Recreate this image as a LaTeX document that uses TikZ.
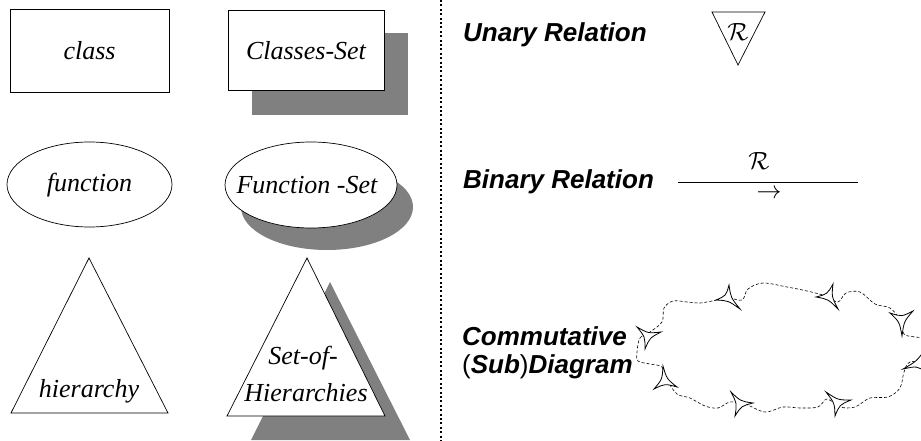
\documentclass[tikz,border=0pt]{standalone}
\usepackage{fontspec}
\setmainfont{Liberation Serif}
\newfontfamily\labelfont{Liberation Sans}
\usetikzlibrary{calc}

\tikzset{
  outline/.style={draw=black, line width=0.7pt},
  shadowfill/.style={fill=black!50, draw=none},
  shapetext/.style={font=\fontsize{26}{30}\selectfont\itshape, inner sep=0pt},
  legend/.style={font=\labelfont\fontsize{26}{30}\selectfont\bfseries\itshape, inner sep=0pt},
  relsym/.style={font=\fontsize{30}{34}\selectfont, inner sep=0pt},
  divider/.style={line width=1.3pt, dash pattern=on 2pt off 2.4pt},
  cloudline/.style={line width=0.6pt, dash pattern=on 3pt off 2pt},
  cusp/.style={draw=black, fill=white, line width=0.8pt, line join=miter},
}

% a small open arrowhead with concave sides, given by its three corners
\newcommand\cuspmark[3]{%
  \coordinate (cg) at ($1/3*(#1)+1/3*(#2)+1/3*(#3)$);
  \draw[cusp] (#1) .. controls ($(#1)!0.5!(#2)!0.6!(cg)$) .. (#2)
     .. controls ($(#2)!0.5!(#3)!0.6!(cg)$) .. (#3)
     .. controls ($(#3)!0.5!(#1)!0.6!(cg)$) .. (#1) -- cycle;
}

\begin{document}
\begin{tikzpicture}[x=1pt, y=-1pt]
\useasboundingbox (0,0) rectangle (921,441);
\clip (0,0) rectangle (921,441);

% ---- left column: single elements ----
\draw[outline] (10,9) rectangle (169,92);
\node[shapetext] (class) at (89.5,51) {class};

\draw[outline] (89.5,184.5) ellipse [x radius=82.5, y radius=42.5];
\node[shapetext] (function) at (89.5,185) {function};

\draw[outline] (89,258) -- (11,413) -- (168,413) -- cycle;
\node[shapetext] (hierarchy) at (89,391) {hierarchy};

% ---- second column: sets, with shadows ----
\fill[shadowfill] (252,33) rectangle (408,115);
\draw[outline, fill=white] (228,10) rectangle (384,90);
\node[shapetext] (classset) at (306,51) {Classes-Set};

\fill[shadowfill] (327,207) ellipse [x radius=86, y radius=43];
\draw[outline, fill=white] (311,185) ellipse [x radius=86, y radius=43];
\node[shapetext] (functionset) at (307,185) {Function -Set};

\fill[shadowfill] (330,282) -- (251,440) -- (410,440) -- cycle;
\draw[outline, fill=white] (307,258) -- (227,416) -- (385,416) -- cycle;
\node[shapetext] (setof) at (303,358) {Set-of-};
\node[shapetext] (hierarchies) at (306,393) {Hierarchies};

% ---- divider ----
\coordinate (divtop) at (441,0);
\coordinate (divbot) at (441,441);
\draw[divider] (divtop) -- (divbot);

% ---- right column: legend ----
\node[legend, anchor=base west] (unary) at (463,42) {Unary Relation};
\draw[outline] (712,12) -- (765,12) -- (738,65) -- cycle;
\node[relsym] (unaryR) at (738,32) {$\mathcal{R}$};

\node[legend, anchor=base west] (binary) at (463,188) {Binary Relation};
\coordinate (binL) at (678,182);
\coordinate (binR) at (858,182);
\draw[outline] (binL) -- (binR);
\node[relsym] (binaryR) at (759,161) {$\mathcal{R}$};
\node[relsym] (binaryArrow) at (769,194) {$\rightarrow$};

\node[legend, anchor=base west] (comm) at (462,345) {Commutative};
\node[legend, anchor=base west] (subdiag) at (462,373)
  {{\upshape\mdseries(}Sub{\upshape\mdseries)}Diagram};

% commutative cloud
\draw[cloudline] plot[smooth cycle, tension=0.55] coordinates {
  (637,352) (640,338) (650,332) (662,322) (664,308) (673,301) (687,302)
  (700,303) (712,301) (728,298) (742,300) (748,289) (763,283) (787,287)
  (807,291) (826,296) (838,302) (846,293) (860,292) (875,304) (890,308)
  (900,320) (904,334) (915,337) (930,340) (930,360) (910,362) (904,372)
  (900,388) (888,397) (870,398) (855,407) (840,407) (827,399) (818,407)
  (800,408) (783,407) (765,412) (745,404) (730,402) (718,408) (705,406)
  (690,398) (677,394) (667,380) (662,367) (650,364) (638,361)};

\cuspmark{729,285}{716,300}{740,309}
\cuspmark{833,284}{816,297}{838,309}
\cuspmark{890,313}{913,311}{902,336}
\cuspmark{926,348}{903,369}{926,372}
\cuspmark{826,392}{851,400}{835,416}
\cuspmark{731,392}{753,403}{735,416}
\cuspmark{663,366}{654,389}{677,387}
\cuspmark{637,327}{661,332}{645,349}
\end{tikzpicture}
\end{document}
